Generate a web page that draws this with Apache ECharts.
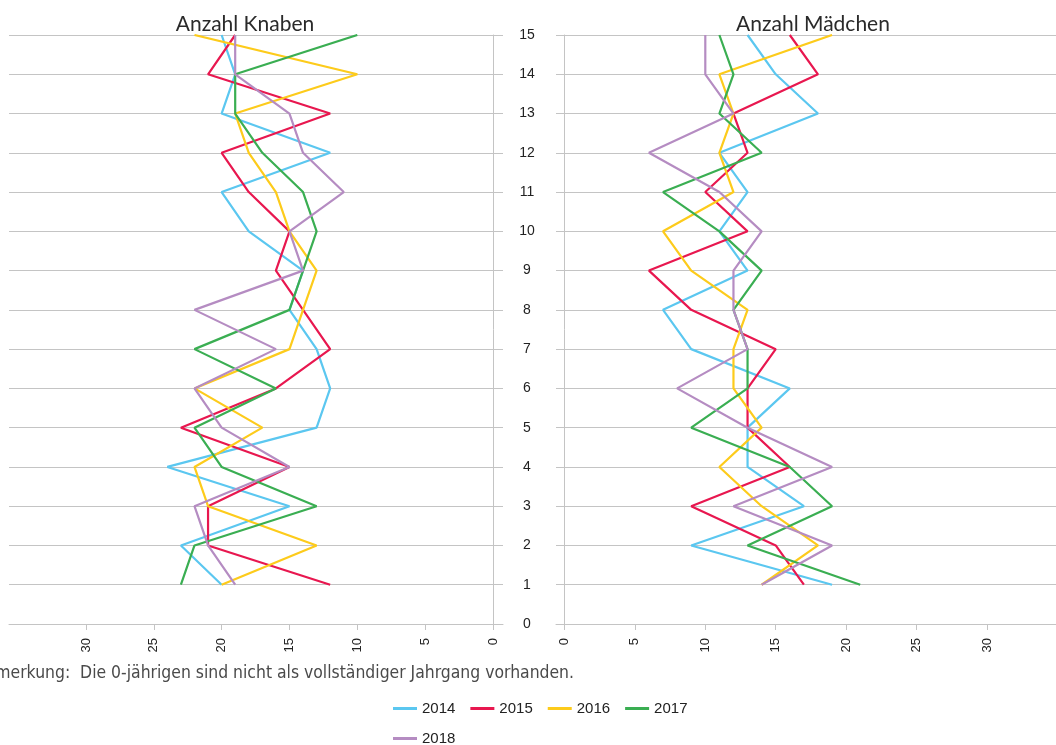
<!DOCTYPE html>
<html>
<head>
<meta charset="utf-8">
<script src="https://cdn.jsdelivr.net/npm/echarts@6/dist/echarts.min.js"></script>
<style>
html,body{margin:0;padding:0;background:#fff;}
#chart{width:1056px;height:745px;}
</style>
</head>
<body>
<div id="chart"></div>
<script>
// Ages (y categories)
const ages = [1,2,3,4,5,6,7,8,9,10,11,12,13,14,15];
const years = ['2014','2015','2016','2017','2018'];
const xTicks = [0,5,10,15,20,25,30];
const yTicks = [0,1,2,3,4,5,6,7,8,9,10,11,12,13,14,15];

// Anzahl Knaben (ages 1..15)
const knaben2014 = [20,23,15,24,13,12,13,15,14,18,20,12,20,19,20];
const knaben2015 = [12,21,21,15,23,16,12,14,16,15,18,20,12,21,19];
const knaben2016 = [20,13,21,22,17,22,15,14,13,15,16,18,19,10,22];
const knaben2017 = [23,22,13,20,22,16,22,15,14,13,14,17,19,19,10];
const knaben2018 = [19,21,22,15,20,22,16,22,14,15,11,14,15,19,19];

// Anzahl Mädchen (ages 1..15)
const maedchen2014 = [19,9,17,13,13,16,9,7,13,11,13,11,18,15,13];
const maedchen2015 = [17,15,9,16,13,13,15,9,6,13,10,13,12,18,16];
const maedchen2016 = [14,18,14,11,14,12,12,13,9,7,12,11,12,11,19];
const maedchen2017 = [21,13,19,16,9,13,13,12,14,11,7,14,11,12,11];
const maedchen2018 = [14,19,12,19,13,8,13,12,12,14,11,6,12,10,10];

const colors = ['#5bc7f0','#e8174f','#fdcb1b','#3aae52','#b58cc2'];
const knaben = [knaben2014,knaben2015,knaben2016,knaben2017,knaben2018];
const maedchen = [maedchen2014,maedchen2015,maedchen2016,maedchen2017,maedchen2018];

const series = [];
years.forEach((y,i)=>{
  series.push({
    name:y, type:'line', xAxisIndex:0, yAxisIndex:0, symbol:'none',
    lineStyle:{width:2.2,color:colors[i]}, itemStyle:{color:colors[i]},
    data: ages.map((a,k)=>[knaben[i][k],a]), animation:false
  });
  series.push({
    name:y, type:'line', xAxisIndex:1, yAxisIndex:1, symbol:'none',
    lineStyle:{width:2.2,color:colors[i]}, itemStyle:{color:colors[i]},
    data: ages.map((a,k)=>[maedchen[i][k],a]), animation:false
  });
});

const gridColor = '#c4c4c4';
const chart = echarts.init(document.getElementById('chart'));
chart.setOption({
  animation:false,
  color: colors,
  title:[
    {text:'Anzahl Knaben', left:240, top:9, textAlign:'center',
     textStyle:{fontFamily:'Lato',fontSize:21,fontWeight:'normal',color:'#2a2a2a'}},
    {text:'Anzahl Mädchen', left:808, top:9, textAlign:'center',
     textStyle:{fontFamily:'Lato',fontSize:21,fontWeight:'normal',color:'#2a2a2a'}}
  ],
  grid:[
    {left:9, top:35, width:494, height:589},
    {left:556, top:35, width:500, height:589}
  ],
  xAxis:[
    {type:'value', gridIndex:0, inverse:true, min:-0.737, max:35.67,
     splitLine:{show:false},
     axisLine:{show:true,lineStyle:{color:gridColor,width:1}},
     axisTick:{show:true,customValues:xTicks,length:6,lineStyle:{color:gridColor}},
     axisLabel:{customValues:xTicks,rotate:90,margin:14,fontFamily:'Liberation Sans',fontSize:13,color:'#222'}},
    {type:'value', gridIndex:1, min:-0.6, max:34.9,
     splitLine:{show:false},
     axisLine:{show:true,lineStyle:{color:gridColor,width:1}},
     axisTick:{show:true,customValues:xTicks,length:6,lineStyle:{color:gridColor}},
     axisLabel:{customValues:xTicks,rotate:90,margin:14,fontFamily:'Liberation Sans',fontSize:13,color:'#222'}}
  ],
  yAxis:[
    {type:'value', gridIndex:0, min:0, max:15, interval:1, position:'right',
     axisLine:{show:true,lineStyle:{color:gridColor,width:1}},
     axisTick:{show:false}, axisLabel:{show:false},
     splitLine:{show:true,lineStyle:{color:gridColor,width:1.2}}},
    {type:'value', gridIndex:1, min:0, max:15, interval:1, position:'left',
     axisLine:{show:true,lineStyle:{color:gridColor,width:1}},
     axisTick:{show:false},
     axisLabel:{show:true,customValues:yTicks,align:'center',margin:29,fontFamily:'Liberation Sans',fontSize:14,color:'#222'},
     splitLine:{show:true,lineStyle:{color:gridColor,width:1.2}}}
  ],
  legend:[
    {data:['2014','2015','2016','2017'], left:388, top:696, icon:'rect',
     itemWidth:24, itemHeight:3, itemGap:15,
     textStyle:{fontFamily:'Liberation Sans',fontSize:15,color:'#222'}},
    {data:['2018'], left:388, top:726, icon:'rect',
     itemWidth:24, itemHeight:3, itemGap:15,
     textStyle:{fontFamily:'Liberation Sans',fontSize:15,color:'#222'}}
  ],
  graphic:[
    {type:'text', x:574, y:673,
     style:{text:'Anmerkung:  Die 0-jährigen sind nicht als vollständiger Jahrgang vorhanden.',
            align:'right', verticalAlign:'middle',
            font:'17.4px "Liberation Sans Narrow", "DejaVu Sans Condensed", sans-serif', fill:'#4a4a4a'}}
  ],
  series: series
});
</script>
</body>
</html>
